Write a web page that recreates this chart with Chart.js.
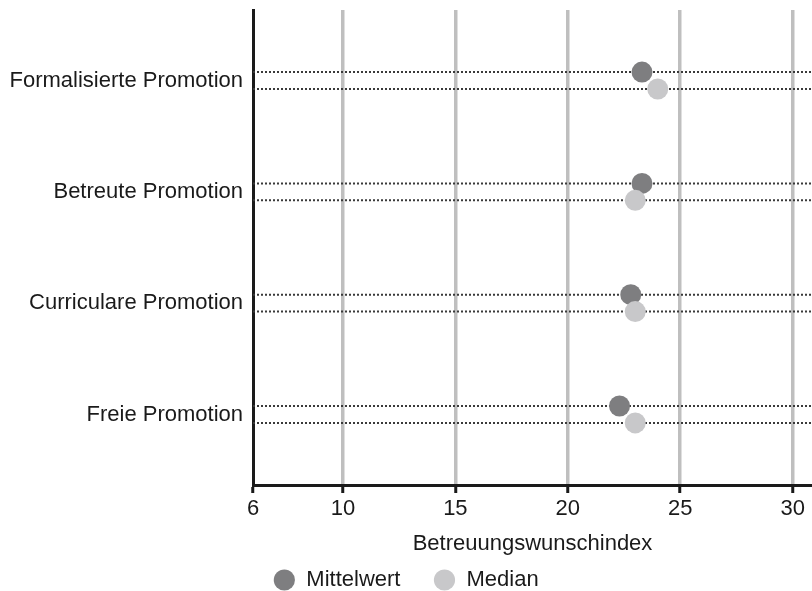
<!DOCTYPE html>
<html lang="de">
<head>
  <meta charset="UTF-8" />
  <title>Betreuungswunschindex nach Promotionsform</title>
  <script src="https://cdn.jsdelivr.net/npm/chart.js@4"></script>
  <style>
    html, body {
      margin: 0;
      padding: 0;
      background-color: white;
    }
    #chart {
      display: block;
    }
  </style>
</head>
<body>
  <canvas id="chart" width="812" height="591"></canvas>

  <script>
    const categories = ['Formalisierte Promotion', 'Betreute Promotion', 'Curriculare Promotion', 'Freie Promotion'];
    const mittelwert = [23.3, 23.3, 22.8, 22.3];
    const median = [24, 23, 23, 23];
    const xTicks = [6, 10, 15, 20, 25, 30];

    const xMin = 6;
    const xMax = 30.86;
    const rowShift = 0.076; // mean row sits just above, median row just below the category

    const textColor = '#1a1a1a';
    Chart.defaults.font.family = '"Liberation Sans", Arial, sans-serif';
    Chart.defaults.font.size = 22;
    Chart.defaults.color = textColor;

    function dots(values, shift) {
      return values.map((v, i) => ({ x: v, y: i + shift }));
    }

    // dotted guide for every row, broken with NaN between categories
    function guides(shift) {
      const pts = [];
      categories.forEach((c, i) => {
        pts.push({ x: xMin, y: i + shift }, { x: xMax, y: i + shift }, { x: NaN, y: NaN });
      });
      return pts;
    }

    const guideStyle = {
      showLine: true,
      pointRadius: 0,
      pointHoverRadius: 0,
      borderColor: '#3a3a3a',
      borderWidth: 2,
      borderDash: [2, 2],
      spanGaps: false,
      order: 2
    };

    const ctx = document.getElementById('chart').getContext('2d');
    new Chart(ctx, {
      type: 'scatter',
      data: {
        datasets: [
          {
            label: 'Mittelwert',
            data: dots(mittelwert, -rowShift),
            backgroundColor: '#7e7e80',
            borderWidth: 0,
            pointRadius: 10.5,
            pointHoverRadius: 10.5,
            order: 1
          },
          {
            label: 'Median',
            data: dots(median, rowShift),
            backgroundColor: '#c8c8ca',
            borderWidth: 0,
            pointRadius: 10.5,
            pointHoverRadius: 10.5,
            order: 0
          },
          Object.assign({ label: 'guide-mean', data: guides(-rowShift) }, guideStyle),
          Object.assign({ label: 'guide-median', data: guides(rowShift) }, guideStyle)
        ]
      },
      options: {
        responsive: false,
        animation: false,
        events: [],
        layout: {
          autoPadding: false,
          padding: { top: 10, right: 0, left: 0, bottom: -10 }
        },
        plugins: {
          tooltip: { enabled: false },
          legend: {
            position: 'bottom',
            labels: {
              usePointStyle: true,
              boxWidth: 22,
              boxHeight: 15,
              padding: 33,
              color: textColor,
              filter: item => item.datasetIndex < 2,
              sort: (a, b) => a.datasetIndex - b.datasetIndex
            }
          }
        },
        scales: {
          x: {
            type: 'linear',
            position: 'bottom',
            min: xMin,
            max: xMax,
            afterBuildTicks: s => { s.ticks = xTicks.map(v => ({ value: v })); },
            afterFit: s => {
              s.height = 51;
              s.paddingLeft = 0;
              s.paddingRight = 0;
            },
            grid: {
              color: c => (c.tick && c.tick.value === xMin) ? 'rgba(0,0,0,0)' : '#bfbfbf',
              lineWidth: 3.5,
              drawTicks: true,
              tickLength: 8,
              tickColor: textColor,
              tickWidth: 3
            },
            border: { color: textColor, width: 3 },
            ticks: { autoSkip: false, padding: 3, maxRotation: 0 },
            title: {
              display: true,
              text: 'Betreuungswunschindex',
              padding: { top: 0, bottom: -21 }
            }
          },
          y: {
            type: 'linear',
            reverse: true,
            min: -0.634,
            max: 3.634,
            afterBuildTicks: s => { s.ticks = categories.map((c, i) => ({ value: i })); },
            afterFit: s => {
              s.width = 253;
              s.paddingTop = 0;
              s.paddingBottom = 0;
            },
            grid: { display: false, drawTicks: false },
            border: { color: textColor, width: 3 },
            ticks: {
              autoSkip: false,
              padding: 10,
              callback: v => categories[v]
            }
          }
        }
      }
    });
  </script>
</body>
</html>
